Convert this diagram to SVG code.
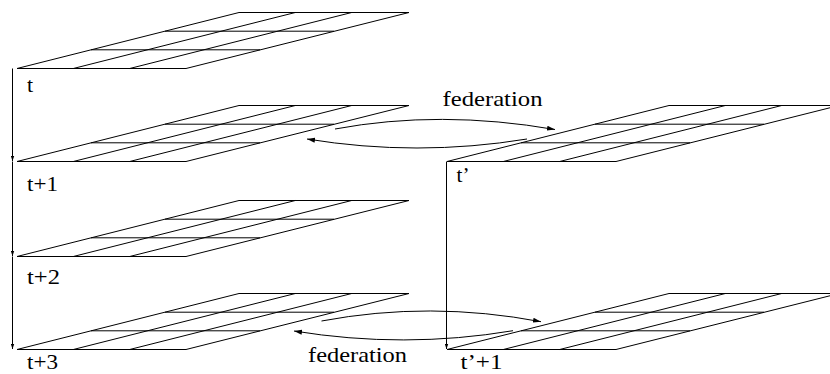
<svg xmlns="http://www.w3.org/2000/svg" xmlns:xlink="http://www.w3.org/1999/xlink" width="830" height="374" viewBox="0 0 830 374">
<style>
.g{fill:none;stroke:#000;stroke-width:1}
.c{fill:none;stroke:#000;stroke-width:1}
text{font-family:'Liberation Serif','Times New Roman',serif;font-size:22px;fill:#000}
</style>
<defs>
<marker id="ah" markerUnits="userSpaceOnUse" markerWidth="9" markerHeight="6" refX="8" refY="3" orient="auto">
<path d="M0,0.5 L8,3 L0,5.5 z" fill="#000"/>
</marker>
<marker id="av" markerUnits="userSpaceOnUse" markerWidth="6" markerHeight="4" refX="5" refY="2" orient="auto">
<path d="M0,0.3 L5,2 L0,3.7 z" fill="#000"/>
</marker>
<g id="grid" class="g">
<path d="M0,0 H169 L392,-56 H222 Z"/>
<path d="M74,-18.7 H243 M148,-37.3 H317"/>
<path d="M56.3,0 L278.3,-56 M112.7,0 L334.7,-56"/>
</g>
</defs>
<g id="connectors">
<path class="c" d="M12.5,68.5 V161" marker-end="url(#av)"/>
<path class="c" d="M12.5,161.5 V256" marker-end="url(#av)"/>
<path class="c" d="M12.5,256.5 V349" marker-end="url(#av)"/>
<path class="c" d="M446.5,161.5 V349" marker-end="url(#av)"/>
<path class="c" d="M335,129 Q440,109.5 555,129.5" marker-end="url(#ah)"/>
<path class="c" d="M527,139 Q417,157 307,139" marker-end="url(#ah)"/>
<path class="c" d="M321.5,321 Q430,300.6 541,321.7" marker-end="url(#ah)"/>
<path class="c" d="M513,330.7 Q404,349 294,331" marker-end="url(#ah)"/>
<text x="442.5" y="105.5" textLength="100" lengthAdjust="spacingAndGlyphs">federation</text>
<text x="308" y="362" textLength="99" lengthAdjust="spacingAndGlyphs">federation</text>
</g>
<g id="node-t">
<use xlink:href="#grid" href="#grid" x="17" y="68.5"/>
<text x="27" y="91.5">t</text>
</g>
<g id="node-t1">
<use xlink:href="#grid" href="#grid" x="17" y="161.5"/>
<text x="27" y="190.5" textLength="31" lengthAdjust="spacingAndGlyphs">t+1</text>
</g>
<g id="node-t2">
<use xlink:href="#grid" href="#grid" x="17" y="256.5"/>
<text x="27" y="283.5" textLength="33" lengthAdjust="spacingAndGlyphs">t+2</text>
</g>
<g id="node-t3">
<use xlink:href="#grid" href="#grid" x="17" y="349.5"/>
<text x="27" y="369" textLength="31" lengthAdjust="spacingAndGlyphs">t+3</text>
</g>
<g id="node-tp">
<use xlink:href="#grid" href="#grid" x="447" y="161.5"/>
<text x="456.5" y="181.5" textLength="13" lengthAdjust="spacingAndGlyphs">t’</text>
</g>
<g id="node-tp1">
<use xlink:href="#grid" href="#grid" x="447" y="349.5"/>
<text x="460.5" y="369" textLength="42" lengthAdjust="spacingAndGlyphs">t’+1</text>
</g>
</svg>
